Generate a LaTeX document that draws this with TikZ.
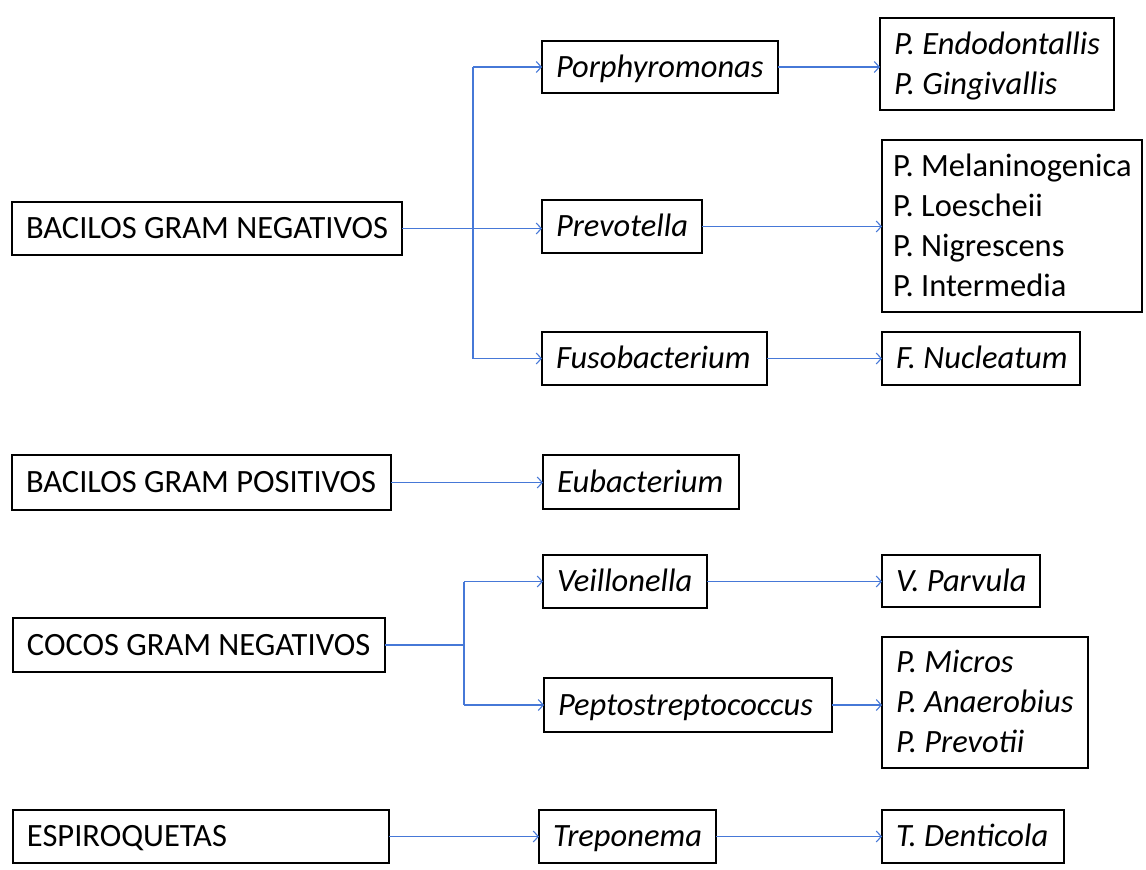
\documentclass[tikz,border=0pt]{standalone}
\usepackage{fontspec}
\setmainfont{Carlito}
\usetikzlibrary{arrows.meta}
\definecolor{conn}{RGB}{70,120,215}
\newcommand\rowtxt[1]{\mbox{\spaceskip=0pt\xspaceskip=0pt\rule[-10pt]{0pt}{40pt}#1}}
\begin{document}
\begin{tikzpicture}[x=1pt,y=-1pt,
  box/.style={draw=black, line width=1.5pt, anchor=north west, inner xsep=14pt, inner ysep=0pt, outer sep=0pt, align=left, font=\fontsize{32.5}{40}\selectfont\frenchspacing},
  link/.style={draw=conn, line width=1.3pt, -{Straight Barb[length=5pt,width=11pt,line width=1.1pt]}},
  trunk/.style={draw=conn, line width=1.3pt}]
\useasboundingbox (0,0) rectangle (1146,870);
% level 1
\node[box, text width=362pt, minimum height=53pt] (bgn) at (12,202) {\rowtxt{BACILOS GRAM NEGATIVOS}};
\node[box, text width=351pt, minimum height=55pt] (bgp) at (12,455) {\rowtxt{BACILOS GRAM POSITIVOS}};
\node[box, text width=344pt, minimum height=54pt] (cgn) at (13,618) {\rowtxt{COCOS GRAM NEGATIVOS}};
\node[box, text width=348pt, minimum height=53pt] (esp) at (13,810) {\rowtxt{ESPIROQUETAS}};
% level 2
\node[box, text width=208pt, minimum height=52pt] (porph) at (542,41) {\rowtxt{\itshape Porphyromonas}};
\node[box, text width=132pt, minimum height=53pt] (prev) at (542,200) {\rowtxt{\itshape Prevotella}};
\node[box, text width=197pt, minimum height=53pt] (fuso) at (542,332) {\rowtxt{\itshape Fusobacterium}};
\node[box, text width=168pt, minimum height=54pt] (eub) at (543,455) {\rowtxt{\itshape Eubacterium}};
\node[box, text width=136pt, minimum height=53pt] (veil) at (543,555) {\rowtxt{\itshape Veillonella}};
\node[box, text width=260pt, minimum height=54pt] (pepto) at (544,678) {\rowtxt{\itshape Peptostreptococcus}};
\node[box, text width=149pt, minimum height=53pt] (trep) at (539,810) {\rowtxt{\itshape Treponema}};
% level 3
\node[box, text width=206pt, minimum height=92pt] (endo) at (880,18) {\rowtxt{\itshape P. Endodontallis}\\\rowtxt{\itshape P. Gingivallis}};
\node[box, inner xsep=11pt, text width=238pt, minimum height=172pt] (prevsp) at (882,140) {\rowtxt{P. Melaninogenica}\\\rowtxt{P. Loescheii}\\\rowtxt{P. Nigrescens}\\\rowtxt{P. Intermedia}};
\node[box, text width=170pt, minimum height=53pt] (fnuc) at (882,332) {\rowtxt{\itshape F. Nucleatum}};
\node[box, text width=130pt, minimum height=52pt] (vpar) at (882,555) {\rowtxt{\itshape V. Parvula}};
\node[box, text width=178pt, minimum height=131pt] (pmic) at (882,637) {\rowtxt{\itshape P. Micros}\\\rowtxt{\itshape P. Anaerobius}\\\rowtxt{\itshape P. Prevotii}};
\node[box, text width=154pt, minimum height=53pt] (tden) at (882,810) {\rowtxt{\itshape T. Denticola}};
% junction columns
\coordinate (ja) at (473,0);
\coordinate (jb) at (464,0);
% bacilos gram negativos
\draw[trunk] (porph.west -| ja) -- (fuso.west -| ja);
\draw[link] (bgn.east) -- (bgn.east -| prev.west);
\draw[link] (porph.west -| ja) -- (porph.west);
\draw[link] (fuso.west -| ja) -- (fuso.west);
\draw[link] (porph.east) -- (porph.east -| endo.west);
\draw[link] (prev.east) -- (prev.east -| prevsp.west);
\draw[link] (fuso.east) -- (fuso.east -| fnuc.west);
% bacilos gram positivos
\draw[link] (bgp.east) -- (bgp.east -| eub.west);
% cocos gram negativos
\draw[trunk] (cgn.east) -- (cgn.east -| jb);
\draw[trunk] (veil.west -| jb) -- (pepto.west -| jb);
\draw[link] (veil.west -| jb) -- (veil.west);
\draw[link] (pepto.west -| jb) -- (pepto.west);
\draw[link] (veil.east) -- (veil.east -| vpar.west);
\draw[link] (pepto.east) -- (pepto.east -| pmic.west);
% espiroquetas
\draw[link] (esp.east) -- (esp.east -| trep.west);
\draw[link] (trep.east) -- (trep.east -| tden.west);
\end{tikzpicture}
\end{document}
